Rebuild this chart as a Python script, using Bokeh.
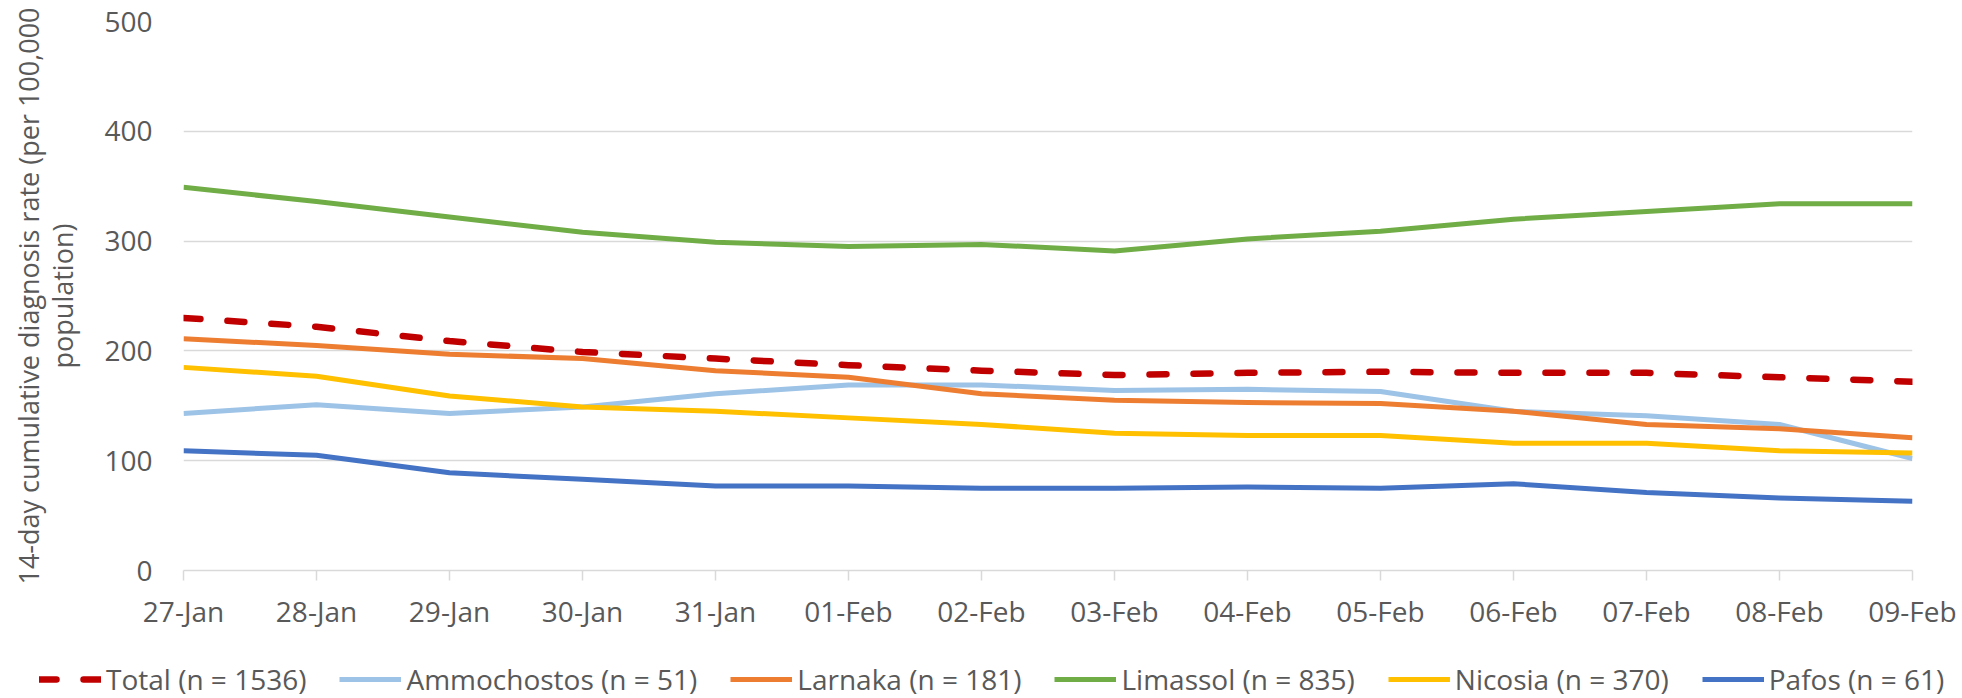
from bokeh.plotting import figure
from bokeh.models import Range1d, FixedTicker, Legend, LegendItem, Title
from bokeh.embed import file_html
from bokeh.resources import INLINE

dates = ["27-Jan", "28-Jan", "29-Jan", "30-Jan", "31-Jan", "01-Feb", "02-Feb",
         "03-Feb", "04-Feb", "05-Feb", "06-Feb", "07-Feb", "08-Feb", "09-Feb"]
total = [230, 222, 209, 199, 193, 187, 182, 178, 180, 181, 180, 180, 176, 172]
ammochostos = [143, 151, 143, 149, 161, 169, 169, 164, 165, 163, 145, 141, 133, 102]
larnaka = [211, 205, 197, 193, 182, 176, 161, 155, 153, 152, 145, 133, 129, 121]
limassol = [349, 336, 322, 308, 299, 295, 297, 291, 302, 309, 320, 327, 334, 334]
nicosia = [185, 177, 159, 149, 145, 139, 133, 125, 123, 123, 116, 116, 109, 107]
pafos = [109, 105, 89, 83, 77, 77, 75, 75, 76, 75, 79, 71, 66, 63]
y_ticks = [0, 100, 200, 300, 400, 500]
series_labels = ["Total (n = 1536)", "Ammochostos (n = 51)", "Larnaka (n = 181)",
                 "Limassol (n = 835)", "Nicosia (n = 370)", "Pafos (n = 61)"]
y_title_line1 = "14-day cumulative diagnosis rate (per 100,000"
y_title_line2 = "population)"

FONT = "Open Sans"
FS = "28px"
TXT = "#595959"
GRID = "#D9D9D9"

xs = list(range(len(dates)))

fig = figure(width=1962, height=634, output_backend="svg", toolbar_location=None,
             x_range=Range1d(0, len(dates) - 1), y_range=Range1d(y_ticks[0], y_ticks[-1]),
             min_border_left=183, min_border_right=50, min_border_top=21, min_border_bottom=64)
fig.outline_line_color = None
fig.background_fill_color = "white"
fig.xgrid.visible = False
fig.ygrid.grid_line_color = GRID
fig.ygrid.grid_line_width = 1.5

fig.xaxis.ticker = FixedTicker(ticks=xs)
fig.xaxis.major_label_overrides = {i: d for i, d in enumerate(dates)}
fig.xaxis.axis_line_color = GRID
fig.xaxis.axis_line_width = 1.5
fig.xaxis.major_tick_line_color = GRID
fig.xaxis.major_tick_line_width = 1.5
fig.xaxis.major_tick_out = 10
fig.xaxis.major_tick_in = 0
fig.xaxis.minor_tick_line_color = None
fig.xaxis.major_label_standoff = 11
fig.xaxis.major_label_text_font = FONT
fig.xaxis.major_label_text_font_size = FS
fig.xaxis.major_label_text_color = TXT

yax = fig.yaxis[0]
yax.ticker = FixedTicker(ticks=y_ticks)
yax.axis_line_color = None
yax.major_tick_line_color = None
yax.minor_tick_line_color = None
yax.major_tick_out = 0
yax.major_tick_in = 0
yax.major_label_standoff = 31
yax.major_label_text_font = FONT
yax.major_label_text_font_size = FS
yax.major_label_text_color = TXT
yax.axis_label = y_title_line2
yax.axis_label_text_font = FONT
yax.axis_label_text_font_size = "27px"
yax.axis_label_text_font_style = "normal"
yax.axis_label_text_color = TXT
yax.axis_label_standoff = 20

ytitle = Title(text=y_title_line1, align="center", text_font=FONT,
               text_font_size="27px", text_font_style="normal",
               text_color=TXT, standoff=-11, offset=-10)
fig.add_layout(ytitle, "left")

specs = [
    (total, "#C00000", 6.5, "17 27"),
    (ammochostos, "#9DC3E6", 5, "solid"),
    (larnaka, "#ED7D31", 5, "solid"),
    (limassol, "#70AD47", 5, "solid"),
    (nicosia, "#FFC000", 5, "solid"),
    (pafos, "#4472C4", 5, "solid"),
]

# legend strip below the chart (separate root, so its frame spans the full width)
leg_fig = figure(width=1962, height=64, output_backend="svg", toolbar_location=None,
                 x_axis_type=None, y_axis_type=None, min_border_left=0,
                 min_border_right=0, min_border_top=0, min_border_bottom=0)
leg_fig.outline_line_color = None
leg_fig.xgrid.visible = False
leg_fig.ygrid.visible = False

items = []
for (vals, color, w, dash), lab in zip(specs, series_labels):
    cap = "round" if dash != "solid" else "butt"
    fig.line(xs, vals, line_color=color, line_width=w, line_dash=dash,
             line_cap=cap, line_join="round")
    lr = leg_fig.line(xs, vals, line_color=color, line_width=w, line_dash=dash,
                      line_cap=cap, line_join="round")
    lr.visible = False
    items.append(LegendItem(label=lab, renderers=[lr]))

legend = Legend(items=items, orientation="horizontal", location=(39, 0),
                glyph_width=62, glyph_height=28, label_height=28, label_standoff=5,
                spacing=33, padding=0, margin=0, border_line_color=None,
                background_fill_alpha=0, label_text_font=FONT,
                label_text_font_size=FS, label_text_color=TXT, click_policy="none")
leg_fig.add_layout(legend)

p = [fig, leg_fig]
open("out.html", "w").write(file_html(p, INLINE))
